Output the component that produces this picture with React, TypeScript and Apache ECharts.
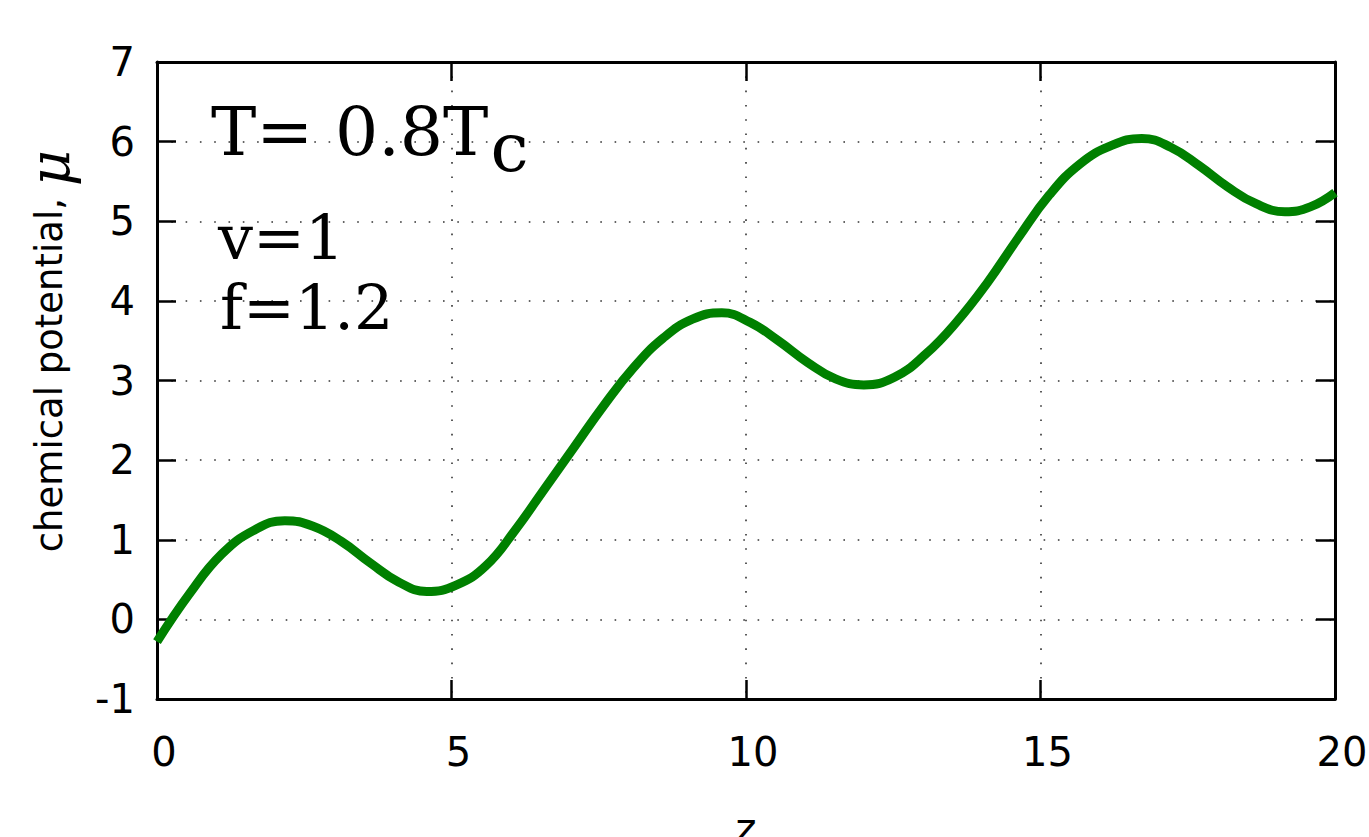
import React, { useEffect, useRef } from "react";
import * as echarts from "echarts";

// distance z (samples, including its turning points)
const zValues = [
  0, 0.55, 1.1, 1.65, 2.17,
  2.65, 3.13, 3.62, 4.1, 4.58,
  5.08, 5.58, 6.08, 6.58, 7.08, 7.58, 8.09, 8.59, 9.09, 9.59,
  10.07, 10.55, 11.04, 11.52, 12.0,
  12.52, 13.05, 13.57, 14.1, 14.62, 15.15, 15.67, 16.2, 16.72,
  17.21, 17.69, 18.18, 18.66, 19.15,
  19.58, 20.0,
];
// chemical potential mu
const muValues = [
  -0.28, 0.32, 0.82, 1.12, 1.24,
  1.17, 0.98, 0.71, 0.47, 0.35,
  0.43, 0.67, 1.12, 1.64, 2.16, 2.68, 3.16, 3.53, 3.77, 3.85,
  3.73, 3.5, 3.23, 3.02, 2.945,
  3.04, 3.33, 3.73, 4.23, 4.79, 5.33, 5.72, 5.95, 6.04,
  5.93, 5.7, 5.43, 5.22, 5.12,
  5.18, 5.36,
];

const xTicks = { min: 0, max: 20, interval: 5 };
const yTicks = { min: -1, max: 7, interval: 1 };

const annotationMain = "T= 0.8T";
const annotationSub = "c";
const annotationV = "v=1";
const annotationF = "f=1.2";
const yAxisTitle = "chemical potential, ";
const yAxisSymbol = "μ";
const xAxisTitle = "z";

const SANS = "'DejaVu Sans', sans-serif";
const SERIF = "'DejaVu Serif', serif";

export default function App() {
  const ref = useRef<HTMLDivElement>(null);

  useEffect(() => {
    if (!ref.current) return;
    const chart = echarts.init(ref.current, null, { renderer: "svg", width: 1369, height: 837 });

    const data = zValues.map((z, i) => [z, muValues[i]]);

    const frameLine = { show: true, lineStyle: { color: "#000", width: 3 } };
    const tick = { show: true, inside: true, length: 19, lineStyle: { color: "#000", width: 2.5 } };
    const grid = {
      show: true,
      lineStyle: { color: "#333", width: 1.6, type: [1.6, 12.7] as any },
    };

    chart.setOption({
      animation: false,
      backgroundColor: "#fff",
      grid: {
        left: 157,
        right: 34,
        top: 62,
        bottom: 138,
        containLabel: false,
        outerBoundsMode: "none",
      },
      xAxis: [
        {
          type: "value",
          min: xTicks.min,
          max: xTicks.max,
          interval: xTicks.interval,
          position: "bottom",
          axisLine: { ...frameLine, onZero: false },
          axisTick: tick,
          splitLine: grid,
          axisLabel: {
            show: true,
            color: "#000",
            fontFamily: SANS,
            fontSize: 40,
            margin: 33,
            padding: [0, 0, 0, 14],
          },
          name: xAxisTitle,
          nameLocation: "middle",
          nameGap: 109,
          nameTextStyle: { color: "#000", fontFamily: SANS, fontSize: 40 },
        },
        {
          type: "value",
          min: xTicks.min,
          max: xTicks.max,
          interval: xTicks.interval,
          position: "top",
          axisLine: { ...frameLine, onZero: false },
          axisTick: tick,
          splitLine: { show: false },
          axisLabel: { show: false },
        },
      ],
      yAxis: [
        {
          type: "value",
          min: yTicks.min,
          max: yTicks.max,
          interval: yTicks.interval,
          position: "left",
          axisLine: { ...frameLine, onZero: false },
          axisTick: tick,
          splitLine: grid,
          axisLabel: {
            show: true,
            color: "#000",
            fontFamily: SANS,
            fontSize: 40,
            margin: 22,
          },
        },
        {
          type: "value",
          min: yTicks.min,
          max: yTicks.max,
          interval: yTicks.interval,
          position: "right",
          axisLine: { ...frameLine, onZero: false },
          axisTick: tick,
          splitLine: { show: false },
          axisLabel: { show: false },
        },
      ],
      series: [
        {
          type: "line",
          xAxisIndex: 0,
          yAxisIndex: 0,
          data,
          smooth: 0.45,
          showSymbol: false,
          symbol: "none",
          lineStyle: { color: "#008000", width: 9 },
          z: 5,
        },
      ],
      graphic: [
        {
          type: "text",
          left: 211,
          top: 81,
          z: 10,
          style: {
            text: `{a|${annotationMain}}{c|${annotationSub}}`,
            rich: {
              a: {
                fontFamily: SERIF,
                fontSize: 68,
                lineHeight: 80,
                fill: "#000",
                color: "#000",
              },
              c: {
                fontFamily: SERIF,
                fontSize: 68,
                lineHeight: 80,
                padding: [32, 0, 0, 2],
                fill: "#000",
                color: "#000",
              },
            },
          },
        },
        {
          type: "text",
          left: 218,
          top: 206,
          z: 10,
          style: {
            text: annotationV,
            fontFamily: SERIF,
            fontSize: 62,
            fill: "#000",
          },
        },
        {
          type: "text",
          left: 220,
          top: 276,
          z: 10,
          style: {
            text: annotationF,
            fontFamily: SERIF,
            fontSize: 62,
            fill: "#000",
          },
        },
        {
          type: "text",
          x: 49,
          y: 351,
          rotation: Math.PI / 2,
          z: 10,
          style: {
            text: `{s|${yAxisTitle}}{m|${yAxisSymbol}}`,
            align: "center",
            verticalAlign: "middle",
            rich: {
              s: { fontFamily: SANS, fontSize: 37, fill: "#000", color: "#000" },
              m: {
                fontFamily: SERIF,
                fontStyle: "italic",
                fontSize: 56,
                fill: "#000",
                color: "#000",
              },
            },
          },
        },
      ],
    });

    return () => chart.dispose();
  }, []);

  return (
    <div
      ref={ref}
      style={{ position: "absolute", left: 0, top: 0, width: 1369, height: 837, background: "#fff" }}
    />
  );
}
